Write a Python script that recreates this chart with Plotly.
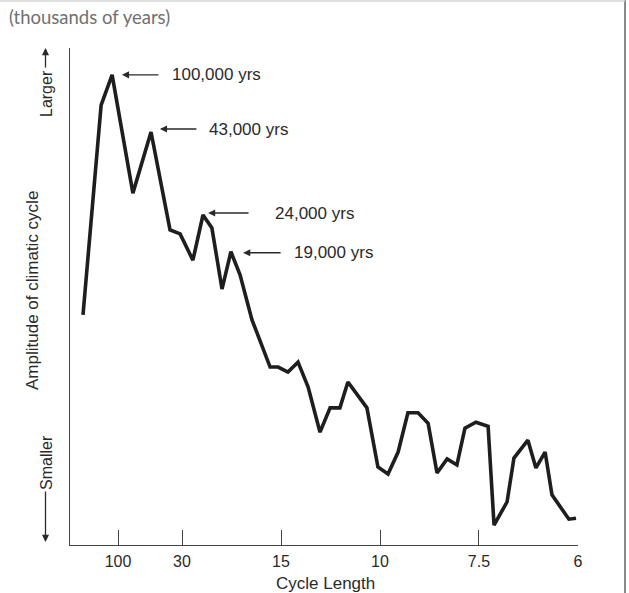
import plotly.graph_objects as go

# Frequency (cycles per thousand years) and relative amplitude (0-100)
freq = [0.0000, 0.0030, 0.0061, 0.0098, 0.0168, 0.0229, 0.0293, 0.0327, 0.0370, 0.0404,
        0.0434, 0.0468, 0.0498, 0.0529, 0.0569, 0.0630, 0.0657, 0.0690, 0.0724, 0.0758,
        0.0798, 0.0832, 0.0865, 0.0892, 0.0956, 0.0993, 0.1027, 0.1061, 0.1094, 0.1128,
        0.1162, 0.1192, 0.1226, 0.1259, 0.1286, 0.1323, 0.1364, 0.1384, 0.1428, 0.1451,
        0.1498, 0.1525, 0.1556, 0.1579, 0.1636, 0.1660]
amplitude = [46.3, 67.4, 88.5, 94.6, 70.8, 83.1, 63.4, 62.6, 57.3, 66.4,
             63.8, 51.5, 59.0, 54.3, 45.3, 35.8, 35.8, 34.8, 36.8, 31.8,
             22.7, 27.6, 27.6, 32.8, 27.6, 15.7, 14.3, 18.7, 26.6, 26.6,
             24.5, 14.5, 17.3, 16.1, 23.5, 24.7, 23.9, 4.0, 8.7, 17.5,
             21.1, 15.5, 18.7, 10.1, 5.2, 5.4]

tick_pos = [0.0118, 1/30, 1/15, 1/10, 1/7.5, 1/6]
tick_text = ["100", "30", "15", "10", "7.5", "6"]

# Peak labels: arrow head (freq, amp), arrow length px, text start freq
peak_labels = ["100,000 yrs", "43,000 yrs", "24,000 yrs", "19,000 yrs"]
peak_head_x = [0.0131, 0.0259, 0.0421, 0.0539]
peak_head_y = [94.6, 83.7, 66.8, 58.8]
peak_arrow_len = [38, 38, 42, 39]
peak_text_x = [0.0293, 0.0418, 0.0640, 0.0704]

W, H = 629, 593
L, R, T, B = 70, 51, 48, 48
PW, PH = W - L - R, H - T - B


def px2paper_x(px):
    return (px - L) / PW


def py2paper_y(py):
    return (H - B - py) / PH


ink = "#2a2a2a"
font = "Liberation Sans, Arial, sans-serif"

fig = go.Figure()
fig.add_trace(go.Scatter(x=freq, y=amplitude, mode="lines",
                         line=dict(color="#1e1e1e", width=3.6),
                         showlegend=False, hoverinfo="skip"))

ann = []
for lab, hx, hy, al, tx in zip(peak_labels, peak_head_x, peak_head_y, peak_arrow_len, peak_text_x):
    ann.append(dict(x=hx, y=hy, xref="x", yref="y", text="", showarrow=True,
                    ax=al, ay=0, arrowhead=2, arrowsize=1.1, arrowwidth=1.3,
                    arrowcolor=ink, standoff=0, startstandoff=0))
    ann.append(dict(x=tx, y=hy, xref="x", yref="y", text=lab, showarrow=False,
                    xanchor="left", yanchor="middle",
                    font=dict(family=font, size=17, color=ink)))

# y-axis side labels
ann.append(dict(x=px2paper_x(32), y=py2paper_y(291), xref="paper", yref="paper",
                text="Amplitude of climatic cycle", showarrow=False, textangle=-90,
                xanchor="center", yanchor="middle",
                font=dict(family=font, size=17, color=ink)))
ann.append(dict(x=px2paper_x(46), y=py2paper_y(94), xref="paper", yref="paper",
                text="Larger", showarrow=False, textangle=-90,
                xanchor="center", yanchor="middle",
                font=dict(family=font, size=16, color=ink)))
ann.append(dict(x=px2paper_x(46), y=py2paper_y(463), xref="paper", yref="paper",
                text="Smaller", showarrow=False, textangle=-90,
                xanchor="center", yanchor="middle",
                font=dict(family=font, size=16, color=ink)))
ann.append(dict(x=px2paper_x(45.5), y=py2paper_y(48), xref="paper", yref="paper",
                text="", showarrow=True, ax=0, ay=21, arrowhead=2, arrowsize=1.1,
                arrowwidth=1.3, arrowcolor=ink, standoff=0))
ann.append(dict(x=px2paper_x(45.5), y=py2paper_y(542), xref="paper", yref="paper",
                text="", showarrow=True, ax=0, ay=-52, arrowhead=2, arrowsize=1.1,
                arrowwidth=1.3, arrowcolor=ink, standoff=0))
# titles
ann.append(dict(x=px2paper_x(325), y=py2paper_y(583), xref="paper", yref="paper",
                text="Cycle Length", showarrow=False, xanchor="center", yanchor="middle",
                font=dict(family=font, size=17, color=ink)))
ann.append(dict(x=px2paper_x(7), y=py2paper_y(17), xref="paper", yref="paper",
                text="(thousands of years)", showarrow=False, xanchor="left", yanchor="middle",
                font=dict(family="Lato, sans-serif", size=18.5, color="#707070")))

fig.update_layout(
    width=W, height=H,
    margin=dict(l=L, r=R, t=T, b=B),
    paper_bgcolor="white", plot_bgcolor="white",
    annotations=ann,
    shapes=[
        dict(type="line", xref="paper", yref="paper",
             x0=px2paper_x(625), x1=px2paper_x(625), y0=py2paper_y(593), y1=py2paper_y(0),
             line=dict(color="#8a8a8a", width=2)),
        dict(type="line", xref="paper", yref="paper",
             x0=px2paper_x(0), x1=px2paper_x(625), y0=py2paper_y(1), y1=py2paper_y(1),
             line=dict(color="#d6d6d6", width=1.5)),
    ],
)
fig.update_xaxes(range=[-0.00438, 0.16667], tickvals=tick_pos, ticktext=tick_text,
                 ticks="inside", ticklen=15, tickwidth=1.4, tickcolor="#444",
                 showline=True, linecolor="#444", linewidth=1.4,
                 showgrid=False, zeroline=False, ticklabelstandoff=2,
                 tickfont=dict(family=font, size=16, color=ink))
fig.update_yaxes(range=[0, 100], showticklabels=False, ticks="",
                 showline=True, linecolor="#444", linewidth=1.4,
                 showgrid=False, zeroline=False)

fig.write_html("out.html", config={"displayModeBar": False},
               post_script="document.body.style.margin='0';document.body.style.overflow='hidden';")
